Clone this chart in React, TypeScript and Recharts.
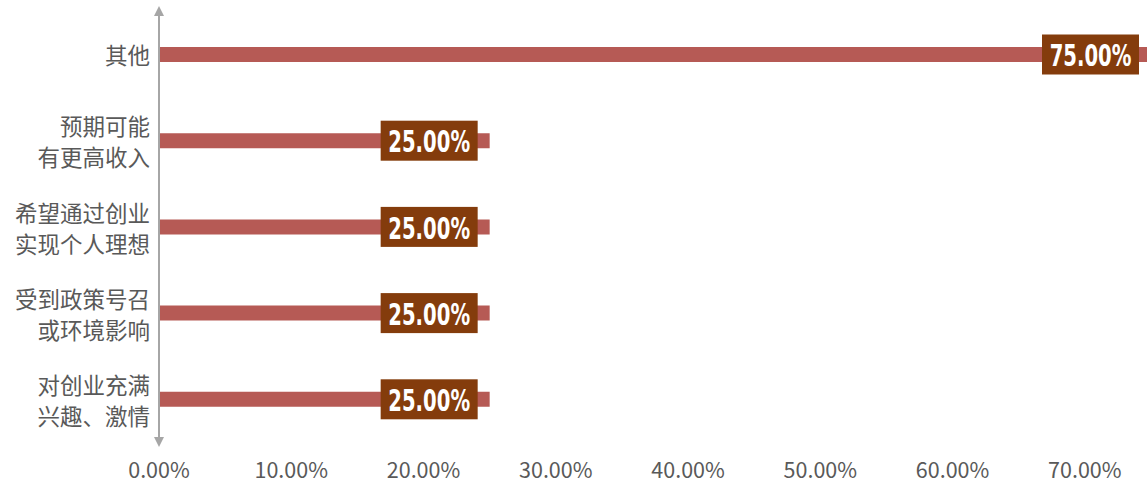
import React from "react";
import { BarChart, Bar, XAxis, YAxis, LabelList } from "recharts";

const categories = [
  "其他",
  "预期可能\n有更高收入",
  "希望通过创业\n实现个人理想",
  "受到政策号召\n或环境影响",
  "对创业充满\n兴趣、激情",
];
const shares = [0.75, 0.25, 0.25, 0.25, 0.25];
const xTicks = [0, 0.1, 0.2, 0.3, 0.4, 0.5, 0.6, 0.7];

const data = categories.map((name, i) => ({ name, value: shares[i] }));

const pct = (v: number) => (v * 100).toFixed(2) + "%";

const CatTick = (props: any) => {
  const { x, y, payload } = props;
  const lines = String(payload.value).split("\n");
  const offs = lines.length === 1 ? [0] : [-15, 16];
  return (
    <text
      textAnchor="end"
      dominantBaseline="central"
      fontSize={22.5}
      fill="#595959"
      fontFamily="'Noto Sans CJK SC', sans-serif"
    >
      {lines.map((l, i) => (
        <tspan key={i} x={x - 1} y={y + offs[i]}>
          {l}
        </tspan>
      ))}
    </text>
  );
};

const ValTick = (props: any) => {
  const { x, y, payload } = props;
  return (
    <text
      x={x}
      y={y + 18}
      textAnchor="middle"
      dominantBaseline="central"
      fontSize={21.5}
      fill="#595959"
      fontFamily="'Noto Sans CJK SC', sans-serif"
    >
      {pct(payload.value)}
    </text>
  );
};

const BoxLabel = (props: any) => {
  const { x, y, width, height, value } = props;
  const right = x + width - 12;
  const cy = y + height / 2;
  const cx = right - 48.5;
  return (
    <g>
      <rect x={right - 97} y={cy - 20} width={97} height={40} fill="#843C0C" />
      <g transform={`translate(${cx},${cy + 1}) scale(0.75,1)`}>
        <text
          x={0}
          y={0}
          textAnchor="middle"
          dominantBaseline="central"
          fontSize={30}
          fontWeight="bold"
          fill="#ffffff"
          fontFamily="'DejaVu Sans Condensed', 'DejaVu Sans', sans-serif"
          textLength={109}
          lengthAdjust="spacingAndGlyphs"
        >
          {pct(value)}
        </text>
      </g>
    </g>
  );
};

export default function App() {
  return (
    <div style={{ position: "absolute", left: 0, top: 0, background: "#fff" }}>
      <BarChart
        width={1147}
        height={484}
        data={data}
        layout="vertical"
        margin={{ top: 11, right: -4, bottom: 0, left: 0 }}
        barCategoryGap={0}
      >
        <defs>
          <marker
            id="arrowHead"
            viewBox="0 0 10 10"
            refX="5"
            refY="5"
            markerWidth="5"
            markerHeight="5"
            orient="auto-start-reverse"
          >
            <path d="M0,0 L10,5 L0,10 z" fill="#A6A6A6" />
          </marker>
        </defs>
        <XAxis
          type="number"
          domain={[0, 0.75]}
          ticks={xTicks}
          axisLine={false}
          tickLine={false}
          height={42}
          tick={<ValTick />}
          interval={0}
        />
        <YAxis
          type="category"
          dataKey="name"
          width={159}
          tickLine={false}
          axisLine={{
            stroke: "#A6A6A6",
            strokeWidth: 2,
            markerStart: "url(#arrowHead)",
            markerEnd: "url(#arrowHead)",
          }}
          tick={<CatTick />}
          interval={0}
        />
        <Bar dataKey="value" fill="#B65A55" barSize={15} isAnimationActive={false}>
          <LabelList dataKey="value" content={<BoxLabel />} />
        </Bar>
      </BarChart>
    </div>
  );
}
